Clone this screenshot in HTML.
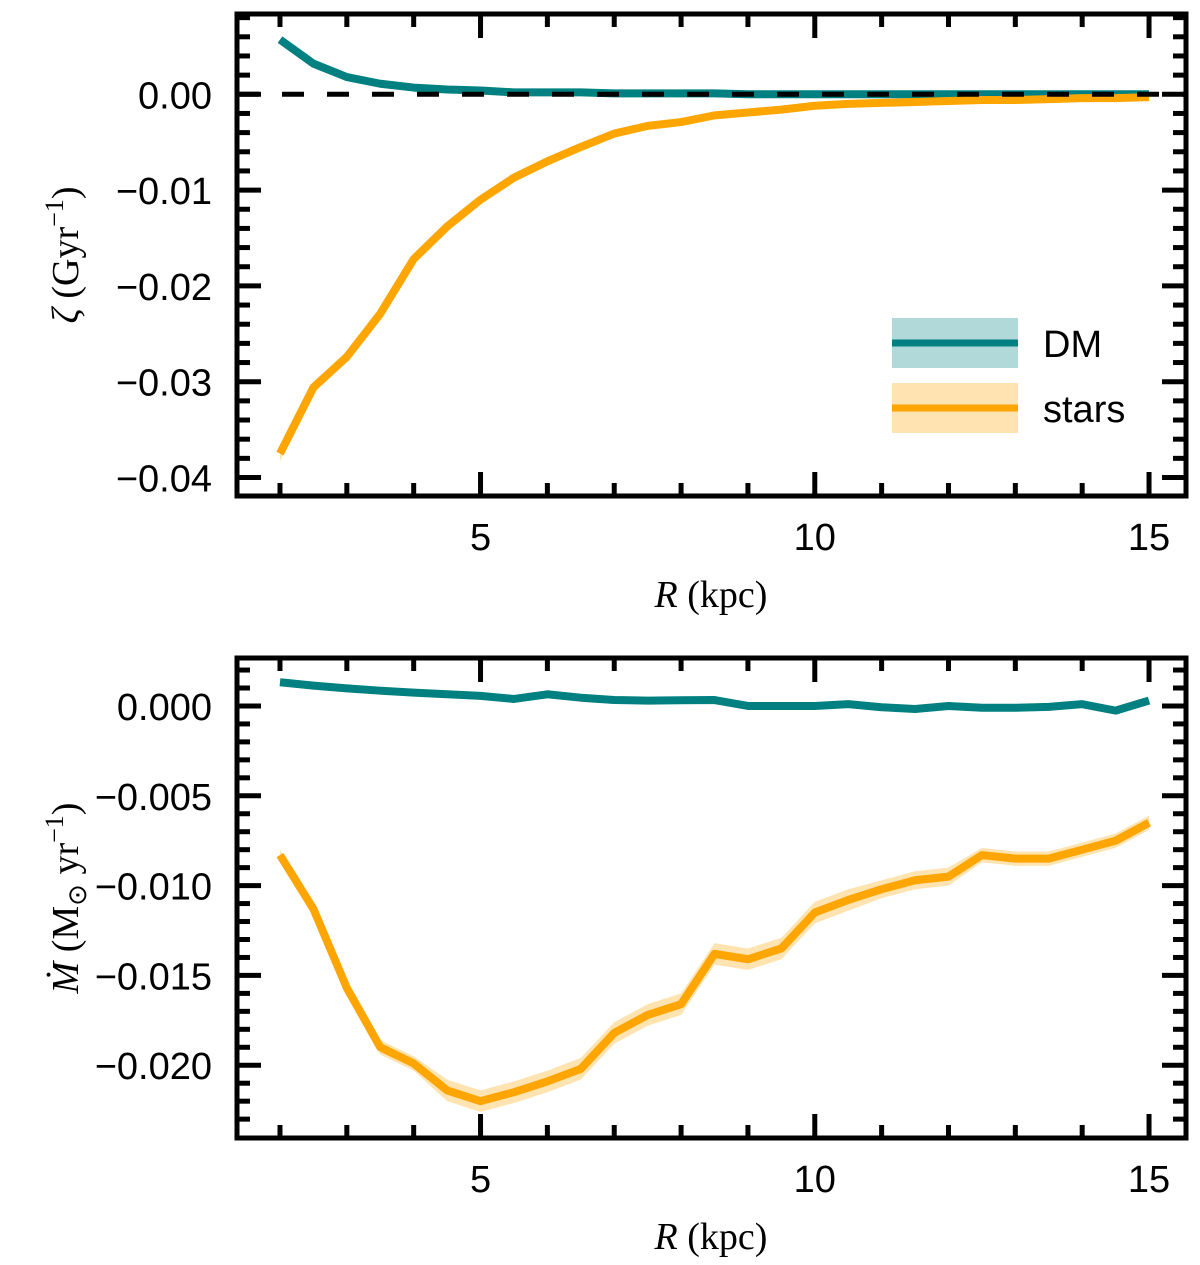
<!DOCTYPE html>
<html><head><meta charset="utf-8"><style>
html,body{margin:0;padding:0;background:#fff;}
svg{display:block;}
.tk{font-family:"Liberation Sans",sans-serif;font-size:38px;fill:#000;}
.lab{font-family:"Liberation Serif",serif;font-size:38px;fill:#000;}
</style></head><body>
<svg id="chart" width="1200" height="1265" viewBox="0 0 1200 1265" xmlns="http://www.w3.org/2000/svg">
</svg>
<script>
const radii = [2,2.5,3,3.5,4,4.5,5,5.5,6,6.5,7,7.5,8,8.5,9,9.5,10,10.5,11,11.5,12,12.5,13,13.5,14,14.5,15];
const zetaStars = [-0.0375,-0.0306,-0.0274,-0.0229,-0.0172,-0.0138,-0.0110,-0.0087,-0.0070,-0.0055,-0.0041,-0.0033,-0.0029,-0.0022,-0.0019,-0.0016,-0.0012,-0.0010,-0.0009,-0.0008,-0.0007,-0.0006,-0.0006,-0.0005,-0.0004,-0.0004,-0.0003];
const zetaStarsErr = [0.0008,0.0006,0.0004,0.0003,0.0002,0.0002,0.0001,0.0001,0.0001,0.0001,0.0001,0.0001,0.0001,0.0001,0.0001,0.0001,0.0001,0.0001,0.0001,0.0001,0.0001,0.0001,0.0001,0.0001,0.0001,0.0001,0.0001];
const zetaDM = [0.0057,0.0032,0.0018,0.0011,0.0007,0.0005,0.0004,0.0002,0.0002,0.0002,0.0001,0.0001,0.0001,0.0001,0.0000,0.0000,0.0000,0.0000,0.0000,0.0000,0.0000,0.0000,0.0000,0.0000,0.0000,0.0000,0.0000];
const mdotStars = [-0.0083,-0.0113,-0.0157,-0.0190,-0.0199,-0.0214,-0.0220,-0.0215,-0.0209,-0.0202,-0.0182,-0.0172,-0.0166,-0.0138,-0.0141,-0.0135,-0.0115,-0.0108,-0.0102,-0.0097,-0.0095,-0.0083,-0.0085,-0.0085,-0.0080,-0.0075,-0.0065];
const mdotStarsErr = [0.0003,0.0003,0.0003,0.0004,0.0004,0.0006,0.0006,0.0006,0.0006,0.0006,0.0006,0.0006,0.0006,0.0006,0.0006,0.0006,0.0006,0.0006,0.0005,0.0005,0.0005,0.0004,0.0004,0.0004,0.0004,0.0004,0.0004];
const mdotDM = [0.00132,0.00113,0.00098,0.00085,0.00074,0.00065,0.00056,0.00039,0.00065,0.00046,0.00033,0.00030,0.00032,0.00033,0.0000,0.0000,0.0000,0.0001,-0.00007,-0.00017,0.0000,-0.0001,-0.0001,-0.00005,0.0001,-0.00026,0.0003];
const xTickLabels = [5,10,15];
const zetaTicks = [0.00,-0.01,-0.02,-0.03,-0.04];
const zetaTickLabels = ["0.00","\u22120.01","\u22120.02","\u22120.03","\u22120.04"];
const mdotTicks = [0,-0.005,-0.010,-0.015,-0.020];
const mdotTickLabels = ["0.000","\u22120.005","\u22120.010","\u22120.015","\u22120.020"];

const NS='http://www.w3.org/2000/svg';
const svg=document.getElementById('chart');
function mk(tag,attrs,parent){const e=document.createElementNS(NS,tag);for(const k in attrs)e.setAttribute(k,attrs[k]);(parent||svg).appendChild(e);return e;}
const L=237,Rt=1186;
const xmin=1.357,xmax=15.553;
function X(v){return L+(v-xmin)/(xmax-xmin)*(Rt-L);}
const TEAL='#008080',ORANGE='#FFA500';

function panel(cfg){
  const g=mk('g',{});
  
  
  const Y=v=>cfg.top+(cfg.ymax-v)/(cfg.ymax-cfg.ymin)*(cfg.bot-cfg.top);
  const band=(vals,err,color,nm)=>{
    let d='';
    radii.forEach((r,i)=>{d+=(i?'L':'M')+X(r)+' '+Y(vals[i]+err[i]);});
    for(let i=radii.length-1;i>=0;i--)d+='L'+X(radii[i])+' '+Y(vals[i]-err[i]);
    const p=mk('path',{d:d+'Z',fill:color,'fill-opacity':0.3,stroke:'none'},g);
    
    
  };
  const line=(vals,color,nm)=>{
    const p=mk('polyline',{points:radii.map((r,i)=>X(r)+','+Y(vals[i])).join(' '),fill:'none',stroke:color,'stroke-width':8,'stroke-linejoin':'round'},g);
    
    
  };
  band(cfg.dm,cfg.dm.map(()=>0.00005*(cfg.ymax-cfg.ymin)/0.05),TEAL,'dm-band');
  line(cfg.dm,TEAL,'dm-line');
  band(cfg.st,cfg.stErr,ORANGE,'stars-band');
  line(cfg.st,ORANGE,'stars-line');
  if(cfg.zeroline){
    const z=mk('line',{x1:L,x2:Rt,y1:Y(0),y2:Y(0),stroke:'#000','stroke-width':5,'stroke-dasharray':'22 23'},g);
    
    
  }
  const tg=mk('g',{stroke:'#000','stroke-width':5},g);
  
  
  for(let r=2;r<=15;r++){
    const len=(r%5===0)?24:13;
    mk('line',{x1:X(r),x2:X(r),y1:cfg.bot,y2:cfg.bot-len},tg);
    mk('line',{x1:X(r),x2:X(r),y1:cfg.top,y2:cfg.top+len},tg);
  }
  const start=Math.ceil(cfg.ymin/cfg.minor-1e-6);
  for(let k=start;k*cfg.minor<=cfg.ymax+1e-9;k++){
    const v=k*cfg.minor,y=Y(v);
    if(y<cfg.top+2||y>cfg.bot-2)continue;
    const major=Math.abs(k%cfg.majorEvery)<1e-9;
    const len=major?24:13;
    mk('line',{x1:L,x2:L+len,y1:y,y2:y},tg);
    mk('line',{x1:Rt,x2:Rt-len,y1:y,y2:y},tg);
  }
  const fr=mk('rect',{x:L,y:cfg.top,width:Rt-L,height:cfg.bot-cfg.top,fill:'none',stroke:'#000','stroke-width':5},g);
  
  
  cfg.yt.forEach((v,i)=>{
    const t=mk('text',{x:212,y:Y(v)+14,'text-anchor':'end',class:'tk'},g);
    t.textContent=cfg.ytl[i];
    
    
  });
  xTickLabels.forEach(v=>{
    const t=mk('text',{x:X(v),y:cfg.bot+54,'text-anchor':'middle',class:'tk'},g);
    t.textContent=v;
    
    
  });
  const xl=mk('text',{x:711,y:cfg.bot+111,'text-anchor':'middle',class:'lab'},g);
  xl.innerHTML='<tspan font-style="italic">R</tspan> (kpc)';
  
  
  const yl=mk('text',{x:0,y:0,'text-anchor':'middle',class:'lab',transform:`translate(78,${(cfg.top+cfg.bot)/2}) rotate(-90)`},g);
  yl.innerHTML=cfg.ylabel;
  
  
}
panel({name:'zeta-panel',top:14,bot:496,ymin:-0.04193,ymax:0.00838,minor:0.002,majorEvery:5,
  dm:zetaDM,st:zetaStars,stErr:zetaStarsErr,zeroline:true,yt:zetaTicks,ytl:zetaTickLabels,
  ylabel:'<tspan font-style="italic">ζ</tspan> (Gyr<tspan dy="-15" font-size="26">−1</tspan><tspan dy="15">)</tspan>'});
panel({name:'mdot-panel',top:658,bot:1138,ymin:-0.02405,ymax:0.00267,minor:0.001,majorEvery:5,
  dm:mdotDM,st:mdotStars,stErr:mdotStarsErr,zeroline:false,yt:mdotTicks,ytl:mdotTickLabels,
  ylabel:'<tspan font-style="italic">Ṁ</tspan> (M<tspan dy="8" font-size="26">⊙</tspan><tspan dy="-8"> yr</tspan><tspan dy="-15" font-size="26">−1</tspan><tspan dy="15">)</tspan>'});

const lg=mk('g',{});


const e1=mk('g',{},lg);


mk('rect',{x:892,y:318,width:126,height:50,fill:TEAL,'fill-opacity':0.3},e1);
mk('line',{x1:892,x2:1018,y1:343,y2:343,stroke:TEAL,'stroke-width':7},e1);
const t1=mk('text',{x:1043,y:357,class:'tk'},e1);t1.textContent='DM';
const e2=mk('g',{},lg);


mk('rect',{x:892,y:383,width:126,height:50,fill:ORANGE,'fill-opacity':0.3},e2);
mk('line',{x1:892,x2:1018,y1:408,y2:408,stroke:ORANGE,'stroke-width':7},e2);
const t2=mk('text',{x:1043,y:422,class:'tk'},e2);t2.textContent='stars';
</script>
</body></html>
